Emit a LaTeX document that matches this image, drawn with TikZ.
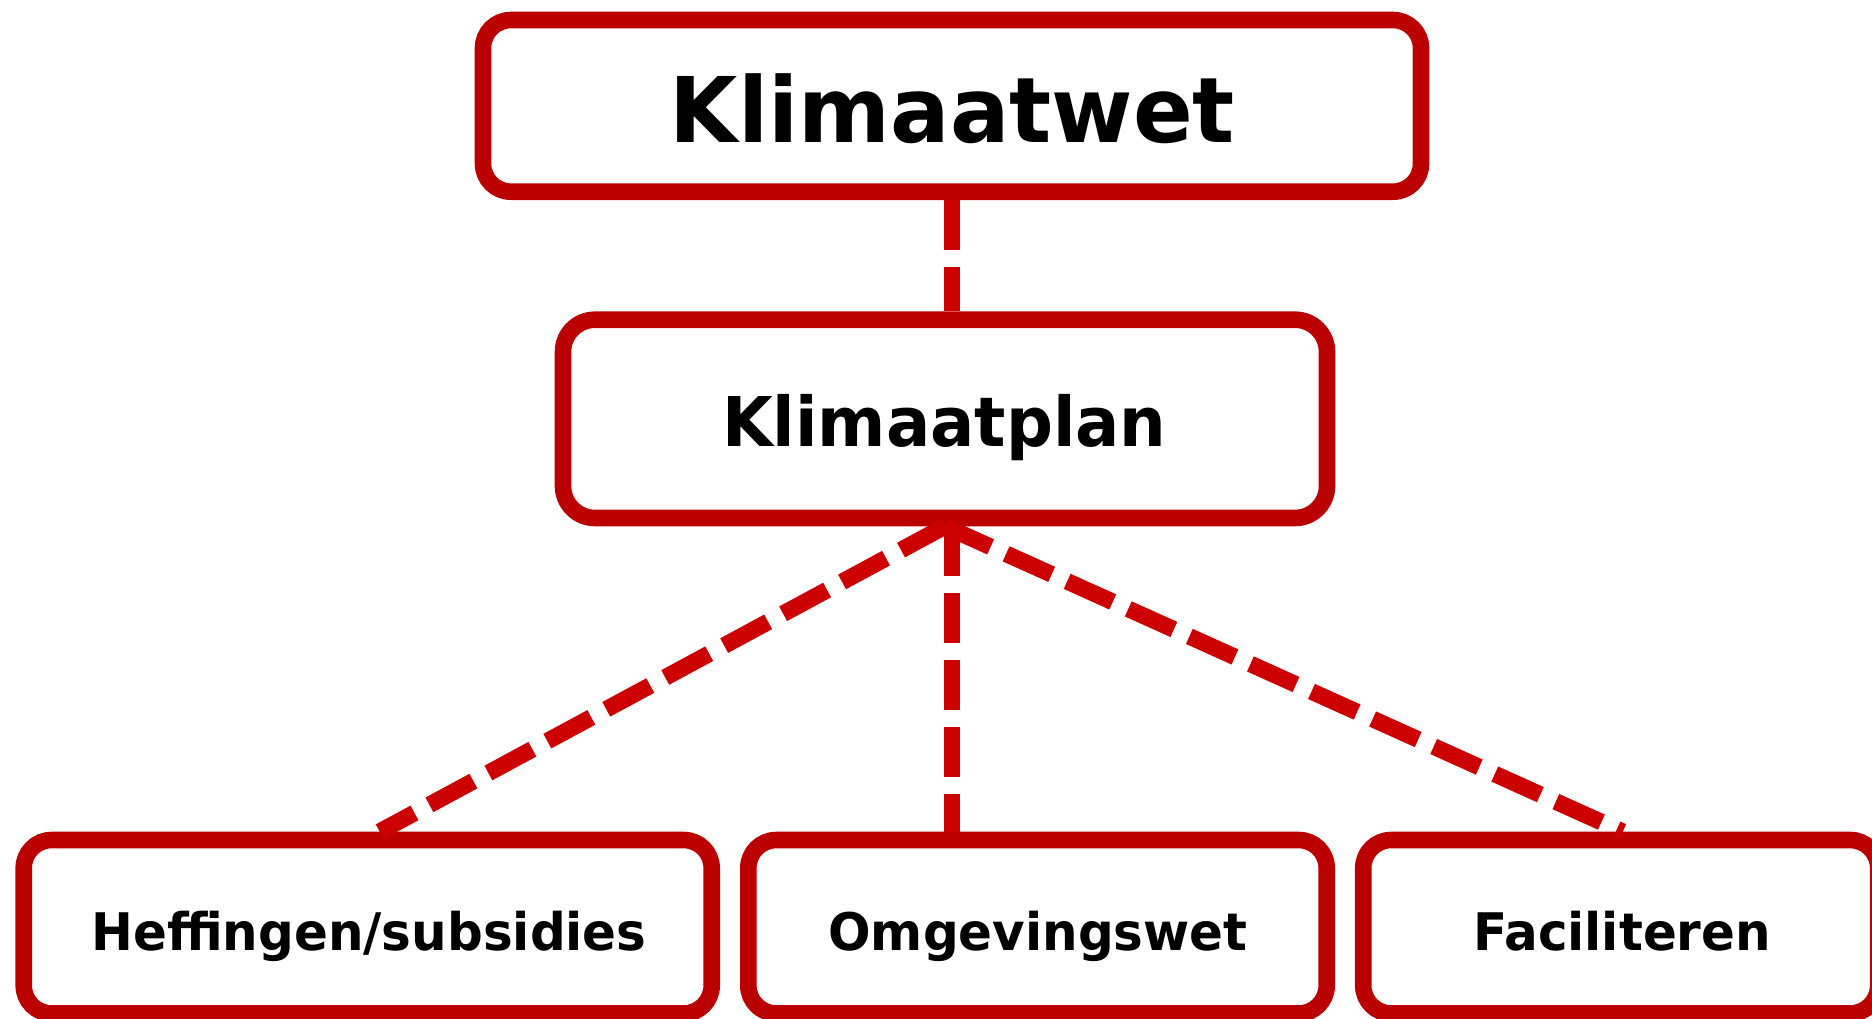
\documentclass[tikz,border=0pt]{standalone}
\usepackage{fontspec}
\setmainfont{DejaVu Sans}
\definecolor{boxred}{RGB}{187,0,0}
\definecolor{linered}{RGB}{204,0,0}
\tikzset{
  box/.style={draw=boxred, line width=8.3pt, rounded corners=14pt, inner sep=0pt, fill=white},
  label/.style={inner sep=0pt, anchor=base, font=\bfseries},
  dashline/.style={draw=linered, line width=8.3pt, dash pattern=on 25pt off 8.5pt},
}
\newcommand{\narrowtext}[2]{\scalebox{#1}[1]{#2}}
\begin{document}
\begin{tikzpicture}[x=0.5pt, y=-0.5pt]
\useasboundingbox (0,0) rectangle (1872,1018);
\clip (0,0) rectangle (1872,1018);
\fill[white] (0,0) rectangle (1872,1018);
% boxes
\node[box, minimum width=469pt, minimum height=85.85pt] (kw) at (952,105.85) {};
\node[box, minimum width=382pt, minimum height=99.15pt, rounded corners=16pt] (plan) at (945,418.85) {};
\node[box, minimum width=344pt, minimum height=86.75pt] (b1) at (367.7,926.75) {};
\node[box, minimum width=289.2pt, minimum height=86.75pt] (b2) at (1037.5,926.75) {};
\node[box, minimum width=257.5pt, minimum height=86.75pt] (b3) at (1620.7,926.75) {};
% texts
\node[label, font=\bfseries\fontsize{45.3pt}{50pt}\selectfont] (kwt) at (952.5,142.7) {\narrowtext{0.973}{Klimaatwet}};
\node[label, font=\bfseries\fontsize{34.3pt}{40pt}\selectfont] (plant) at (944.2,446.7) {\narrowtext{0.956}{Klimaatplan}};
\node[label, font=\bfseries\fontsize{25.9pt}{30pt}\selectfont] (b1t) at (369,950.7) {\narrowtext{0.965}{Heffingen/subsidies}};
\node[label, font=\bfseries\fontsize{25.9pt}{30pt}\selectfont] (b2t) at (1038,950.7) {\narrowtext{0.965}{Omgevingswet}};
\node[label, font=\bfseries\fontsize{25.9pt}{30pt}\selectfont] (b3t) at (1622,950.7) {\narrowtext{0.965}{Faciliteren}};
% connectors
\draw[dashline] (kw.south) -- (kw.south |- plan.north);
\draw[dashline] (plan.south) -- ([xshift=6pt]b1.north);
\draw[dashline] (plan.south -| kw.south) -- (b2.north -| kw.south);
\draw[dashline] (plan.south) -- ([xshift=1pt]b3.north);
\end{tikzpicture}
\end{document}
